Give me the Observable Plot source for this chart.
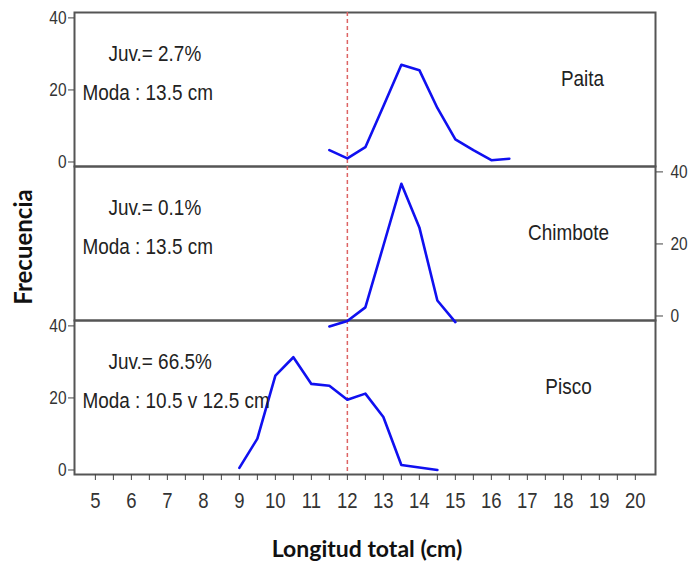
<!DOCTYPE html>
<html>
<head>
<meta charset="utf-8">
<script src="https://cdn.jsdelivr.net/npm/d3@7"></script>
<script src="https://cdn.jsdelivr.net/npm/@observablehq/plot@0.6"></script>
<style>
  html, body { margin: 0; padding: 0; background: #fff; }
  #wrap { position: relative; width: 698px; height: 566px; overflow: hidden; }
  .lab { position: absolute; font-family: Lato, "Open Sans", sans-serif; font-weight: 700; color: #111; white-space: nowrap; }
  #ylab { left: 22px; top: 247px; font-size: 24px; transform: translate(-50%, -50%) rotate(-90deg); }
  #xlab { left: 367px; top: 548px; font-size: 23px; transform: translate(-50%, -50%); }
</style>
</head>
<body>
<div id="wrap">
  <div id="chart"></div>
  <div class="lab" id="ylab">Frecuencia</div>
  <div class="lab" id="xlab">Longitud total (cm)</div>
</div>
<script>
// ---- data ----
const sites = ["Paita", "Chimbote", "Pisco"];

const paitaLen  = [11.5, 12, 12.5, 13, 13.5, 14, 14.5, 15, 15.5, 16, 16.5];
const paitaFreq = [3.3, 1.0, 4.1, 15.5, 27, 25.5, 15, 6.3, 3.3, 0.5, 0.9];

const chimboteLen  = [11.5, 12, 12.5, 13, 13.5, 14, 14.5, 15];
const chimboteFreq = [-2.9, -1.4, 2.4, 19.5, 36.7, 24.6, 4.3, -1.7];

const piscoLen  = [9, 9.5, 10, 10.5, 11, 11.5, 12, 12.5, 13, 13.5, 14, 14.5];
const piscoFreq = [0.6, 8.7, 26.2, 31.3, 23.9, 23.4, 19.5, 21.2, 14.7, 1.4, 0.7, 0];

const juvTexts  = ["Juv.= 2.7%", "Juv.= 0.1%", "Juv.= 66.5%"];
const modaTexts = ["Moda : 13.5 cm", "Moda : 13.5 cm", "Moda : 10.5 v 12.5 cm"];

const juvLimit = 12;
const yTickValues = [0, 20, 40];
const xTickValues = d3.range(5, 20.01, 0.5);
const xDomain = [4.42, 20.56];
const yDomain = [-1.25, 41.5];

// ---- build table ----
const series = {
  Paita: [paitaLen, paitaFreq],
  Chimbote: [chimboteLen, chimboteFreq],
  Pisco: [piscoLen, piscoFreq]
};
const rows = sites.flatMap(s => series[s][0].map((len, i) => ({site: s, len, freq: series[s][1][i]})));

const leftSites = ["Paita", "Pisco"];
const leftTicks = leftSites.flatMap(s => yTickValues.map(() => s));
const leftVals = leftSites.flatMap(() => yTickValues);

const textFont = "'Liberation Sans Narrow', 'Arial Narrow', 'Liberation Sans', Arial, sans-serif";

const chart = Plot.plot({
  width: 698,
  height: 566,
  marginLeft: 74,
  marginRight: 43,
  marginTop: 12,
  marginBottom: 92,
  style: {fontFamily: textFont, fontSize: "17px", color: "#333", overflow: "visible", background: "white"},
  x: {domain: xDomain},
  y: {domain: yDomain},
  fy: {domain: sites, padding: 0, axis: null},
  marks: [
    Plot.frame({stroke: "#555", strokeWidth: 2}),
    Plot.ruleX([juvLimit], {stroke: "#dd6464", strokeWidth: 1.5, strokeDasharray: "4,3"}),
    Plot.line(rows, {x: "len", y: "freq", fy: "site", z: "site", stroke: "#1010f0", strokeWidth: 2.6, strokeLinejoin: "round"}),
    Plot.axisY(leftVals, {anchor: "left", fy: leftTicks, facetAnchor: null, tickSize: 6, tickPadding: 2, label: null, fontSize: 18, stroke: "#444"}),
    Plot.axisY(yTickValues, {anchor: "right", fy: yTickValues.map(() => "Chimbote"), facetAnchor: null, tickSize: 7, tickPadding: 8, label: null, fontSize: 18, stroke: "#444"}),
    Plot.axisX(xTickValues, {anchor: "bottom", tickSize: 6, tickPadding: 12, label: null, fontSize: 21.5, stroke: "#444",
      tickFormat: d => Number.isInteger(d) ? String(d) : ""}),
    Plot.text(sites, {fy: d => d, text: (d, i) => juvTexts[i], frameAnchor: "top-left", dx: 34, dy: 41, textAnchor: "start", lineAnchor: "middle", fontSize: 22, fill: "#222"}),
    Plot.text(sites, {fy: d => d, text: (d, i) => modaTexts[i], frameAnchor: "top-left", dx: 8, dy: 80, textAnchor: "start", lineAnchor: "middle", fontSize: 22, fill: "#222"}),
    Plot.text(sites.slice(0, 1), {fy: d => d, text: d => d, frameAnchor: "top-right", dx: -73, dy: 66, textAnchor: "middle", lineAnchor: "middle", fontSize: 22, fill: "#222"}),
    Plot.text(sites.slice(1), {fy: d => d, text: d => d, frameAnchor: "top-right", dx: -87, dy: 66, textAnchor: "middle", lineAnchor: "middle", fontSize: 22, fill: "#222"})
  ]
});
document.getElementById("chart").appendChild(chart);

// emulate the narrow (condensed) face of the original chart font
d3.select(chart).selectAll("text").each(function () {
  const w = this.getComputedTextLength();
  if (w > 0) {
    this.setAttribute("textLength", (w * 0.86).toFixed(1));
    this.setAttribute("lengthAdjust", "spacingAndGlyphs");
  }
});
</script>
</body>
</html>
